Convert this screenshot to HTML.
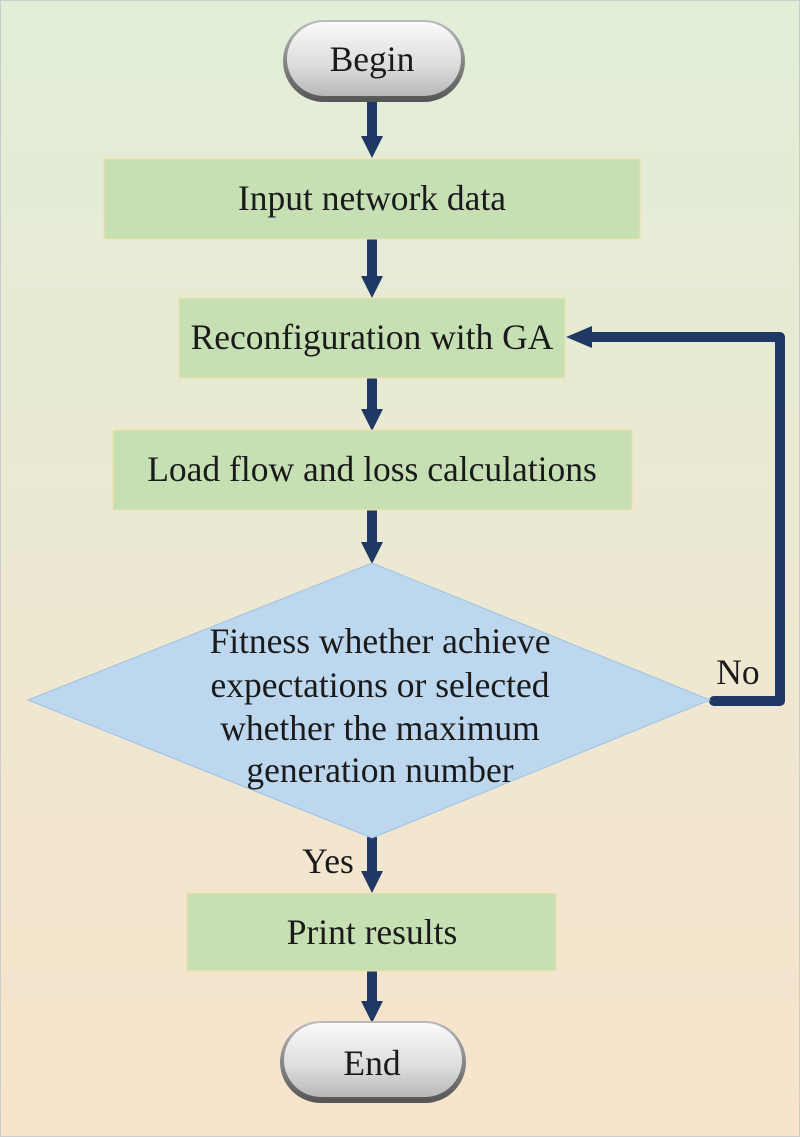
<!DOCTYPE html>
<html><head><style>body{margin:0}svg{display:block}</style></head><body>
<svg width="800" height="1137" viewBox="0 0 800 1137" xmlns="http://www.w3.org/2000/svg" font-family="Liberation Serif, serif" font-size="35.5" fill="#1a1a1a">
<defs>
<linearGradient id="bg" x1="0" y1="0" x2="0" y2="1"><stop offset="0" stop-color="#e1eed8"/><stop offset="1" stop-color="#f8e3cb"/></linearGradient>
<linearGradient id="pill" x1="0" y1="0" x2="0" y2="1"><stop offset="0" stop-color="#fafafa"/><stop offset="0.6" stop-color="#dcdcdc"/><stop offset="1" stop-color="#b8b8b8"/></linearGradient>
<linearGradient id="rim" x1="0" y1="0" x2="0" y2="1"><stop offset="0" stop-color="#bbb"/><stop offset="1" stop-color="#555"/></linearGradient>
</defs>
<rect x="0.5" y="0.5" width="799" height="1136" fill="url(#bg)" stroke="#ccc"/>
<g stroke="#1f3864" stroke-width="10" stroke-linecap="round" fill="none">
<line x1="372" y1="101" x2="372" y2="140"/>
<line x1="372" y1="239" x2="372" y2="280"/>
<line x1="372" y1="378" x2="372" y2="413"/>
<line x1="372" y1="510" x2="372" y2="546"/>
<line x1="372" y1="838" x2="372" y2="875"/>
<line x1="372" y1="971" x2="372" y2="1005"/>
<polyline points="714,701 780,701 780,337 590,337" stroke-linejoin="round"/>
</g>
<g fill="#1f3864">
<polygon points="361,136 383,136 372,158"/>
<polygon points="361,276 383,276 372,298"/>
<polygon points="361,409 383,409 372,431"/>
<polygon points="361,542 383,542 372,564"/>
<polygon points="361,871 383,871 372,893"/>
<polygon points="361,1001 383,1001 372,1023"/>
<polygon points="592,326 592,348 566,337"/>
</g>
<rect x="283" y="20" width="182" height="82" rx="41" fill="url(#rim)"/>
<rect x="287" y="22" width="174" height="74" rx="37" fill="url(#pill)"/>
<text x="372" y="71" text-anchor="middle">Begin</text>
<rect x="104" y="159" width="536" height="80" fill="#c6e0b4" stroke="#f0e0a8"/>
<text x="372" y="210" text-anchor="middle">Input network data</text>
<rect x="179" y="298" width="386" height="80" fill="#c6e0b4" stroke="#f0e0a8"/>
<text x="372" y="349" text-anchor="middle">Reconfiguration with GA</text>
<rect x="113" y="430" width="519" height="80" fill="#c6e0b4" stroke="#f0e0a8"/>
<text x="372" y="481" text-anchor="middle">Load flow and loss calculations</text>
<polygon points="372,563 710,700 372,838 28,700" fill="#bdd7ee" stroke="#9dc3e6"/>
<text text-anchor="middle"><tspan x="380" y="653">Fitness whether achieve</tspan><tspan x="380" y="697">expectations or selected</tspan><tspan x="380" y="740">whether the maximum</tspan><tspan x="380" y="782">generation number</tspan></text>
<text x="738" y="684" text-anchor="middle">No</text>
<text x="328" y="873" text-anchor="middle">Yes</text>
<rect x="187" y="893" width="369" height="78" fill="#c6e0b4" stroke="#f0e0a8"/>
<text x="372" y="944" text-anchor="middle">Print results</text>
<rect x="280" y="1021" width="186" height="82" rx="41" fill="url(#rim)"/>
<rect x="284" y="1023" width="178" height="74" rx="37" fill="url(#pill)"/>
<text x="372" y="1075" text-anchor="middle">End</text>
</svg>
</body></html>
